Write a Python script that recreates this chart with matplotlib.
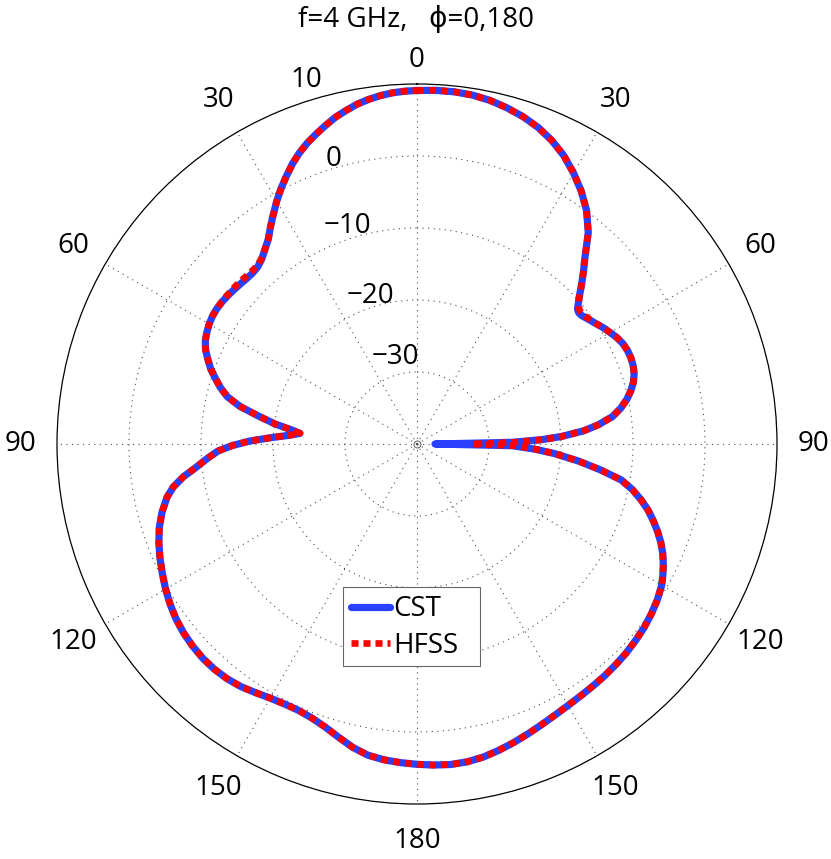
import numpy as np
import matplotlib.pyplot as plt
from matplotlib.patches import Rectangle

plt.rcParams['font.family'] = ['Open Sans', 'DejaVu Sans']

# angle (deg, clockwise from top) and gain (dB)
theta_deg = [0, 3, 6, 9, 12, 15, 18, 21, 24, 27,
             30, 33, 36, 39, 42, 44, 46, 48, 50, 51,
             52, 54, 56, 58, 60, 62, 64, 66, 68, 70,
             72, 74, 76, 78, 80, 82, 84, 85.5, 87, 88,
             89, 90, 91, 92.5, 94, 96, 98, 100, 102, 104,
             106, 108, 110, 112, 114, 116, 118, 120, 123, 126,
             129, 132, 135, 138, 141, 144, 147, 150, 153, 156,
             159, 162, 165, 168, 171, 174, 177, 180, 183, 186,
             189, 192, 195, 198, 201, 204, 207, 210, 213, 216,
             219, 222, 225, 228, 231, 234, 237, 240, 243, 246,
             249, 252, 255, 258, 260, 262, 264, 266, 268, 269.5,
             271, 272.5, 274, 275.2, 276.5, 278, 280, 282, 284, 286,
             288, 290, 292, 294, 296, 298, 300, 302, 304, 306,
             308, 310, 312, 314, 316, 318, 320, 322, 324, 326,
             328, 330, 332, 334, 336, 338, 340, 342, 344, 346,
             348, 350, 352, 354, 356, 358, 360]

cst_db = [9.10, 9.19, 9.19, 9.07, 8.79, 8.33, 7.78, 7.06, 6.11, 4.93,
          3.47, 1.88, 0.07, -2.20, -5.14, -6.72, -8.24, -9.72, -10.90, -11.07,
          -11.00, -10.56, -10.07, -9.51, -9.03, -8.54, -8.19, -8.01, -7.97, -8.06,
          -8.29, -8.72, -9.38, -10.21, -11.25, -12.57, -14.72, -16.81, -19.86, -22.64,
          -26.81, -37.5, -26.81, -23.61, -20.83, -17.50, -14.31, -11.18, -9.38, -7.92,
          -6.60, -5.49, -4.44, -3.47, -2.64, -1.94, -1.32, -0.76, -0.21, 0.21,
          0.56, 0.83, 1.07, 1.25, 1.42, 1.56, 1.72, 1.94, 2.25, 2.64,
          3.10, 3.58, 4.03, 4.44, 4.69, 4.76, 4.65, 4.49, 4.31, 4.10,
          3.75, 3.06, 2.15, 1.32, 0.76, 0.49, 0.53, 0.76, 1.18, 1.64,
          1.94, 2.08, 2.08, 1.94, 1.71, 1.36, 0.88, 0.32, -0.31, -0.93,
          -1.60, -2.36, -3.33, -4.51, -5.63, -7.22, -9.17, -10.76, -12.36, -14.31,
          -16.74, -19.72, -22.36, -23.68, -22.36, -20.14, -17.64, -14.86, -12.85, -11.60,
          -10.56, -9.51, -8.68, -7.85, -7.29, -6.94, -6.67, -6.50, -6.44, -6.49,
          -6.60, -6.74, -6.88, -7.01, -7.06, -6.92, -6.46, -5.69, -4.86, -3.61,
          -2.36, -1.04, 0.21, 1.39, 2.57, 3.61, 4.51, 5.28, 6.04, 6.78,
          7.36, 7.92, 8.33, 8.65, 8.89, 9.03, 9.10]

hfss_db = [9.10, 9.19, 9.19, 9.07, 8.79, 8.33, 7.78, 7.06, 6.11, 4.93,
           3.47, 1.88, 0.07, -2.20, -5.14, -6.72, -8.24, -9.70, -10.65, -10.80,
           -10.78, -10.45, -10.05, -9.51, -9.03, -8.54, -8.19, -8.01, -7.97, -8.06,
           -8.29, -8.72, -9.38, -10.21, -11.25, -12.57, -14.72, -16.81, -19.86, -22.50,
           -26.40, -32.4, -26.40, -23.50, -20.83, -17.50, -14.31, -11.18, -9.38, -7.92,
           -6.60, -5.49, -4.44, -3.47, -2.64, -1.94, -1.32, -0.76, -0.21, 0.21,
           0.56, 0.83, 1.07, 1.25, 1.42, 1.56, 1.72, 1.94, 2.25, 2.64,
           3.10, 3.58, 4.03, 4.44, 4.69, 4.76, 4.65, 4.49, 4.31, 4.10,
           3.75, 3.06, 2.15, 1.32, 0.76, 0.49, 0.53, 0.76, 1.18, 1.64,
           1.94, 2.08, 2.08, 1.94, 1.71, 1.36, 0.88, 0.32, -0.31, -0.93,
           -1.60, -2.36, -3.33, -4.51, -5.63, -7.22, -9.17, -10.76, -12.36, -14.31,
           -16.74, -19.72, -22.36, -23.68, -22.36, -20.14, -17.64, -14.86, -12.85, -11.60,
           -10.56, -9.51, -8.68, -7.85, -7.29, -6.94, -6.67, -6.50, -6.44, -6.45,
           -6.50, -6.55, -6.62, -6.72, -6.80, -6.75, -6.40, -5.69, -4.86, -3.61,
           -2.36, -1.04, 0.21, 1.39, 2.57, 3.61, 4.51, 5.28, 6.04, 6.78,
           7.36, 7.92, 8.33, 8.65, 8.89, 9.03, 9.10]

ring_values = [-30, -20, -10, 0, 10]
ring_labels = ['\u221230', '\u221220', '\u221210', '0', '10']
angle_ticks = [0, 30, 60, 90, 120, 150, 180, 210, 240, 270, 300, 330]
angle_labels = ['0', '30', '60', '90', '120', '150', '180',
                '150', '120', '90', '60', '30']

fig = plt.figure(figsize=(8.31, 8.59), dpi=100)
ax = fig.add_axes([57 / 831, 55 / 859, 720 / 831, 720 / 859], projection='polar')
ax.set_theta_zero_location('N')
ax.set_theta_direction(-1)
ax.set_rlim(-40, 10)

ax.set_xticks(np.deg2rad(angle_ticks))
ax.set_xticklabels([])
ax.set_yticks(ring_values[:-1])
ax.set_yticklabels([])
ax.grid(True, color='0.3', linewidth=0.8, linestyle=(0, (1, 4)))
ax.spines['polar'].set_linewidth(0.9)
ax.spines['polar'].set_color('black')

# small circle at the origin
ax.plot([0], [-40], marker='o', ms=5, mfc='none', mec='0.35', mew=0.7)

th = np.deg2rad(theta_deg)
ax.plot(th, cst_db, color='#2a40ff', lw=5.2, label='CST', solid_capstyle='round',
        solid_joinstyle='round')
ax.plot(th, hfss_db, color='#ff0000', lw=4.8, linestyle=(0, (1.05, 0.75)), label='HFSS')

# radial labels
for v, lab, ang, rr in zip(ring_values, ring_labels,
                           [-14, -17.6, -17.6, -16.4, -17],
                           [-27.5, -18.5, -8.2, 1.25, 12.8]):
    ax.text(np.deg2rad(ang), rr, lab, fontsize=20, ha='center', va='center', clip_on=False)

# angle labels
for a, lab in zip(angle_ticks, angle_labels):
    rr = 13.3 if a == 0 else 15.1
    ax.text(np.deg2rad(a), rr, lab, fontsize=20, ha='center', va='center', clip_on=False)

fig.text(0.5, 1 - 27 / 859, 'f=4 GHz,   \u03d5=0,180', fontsize=20, ha='center', va='baseline')

# legend box (matlab style, wider on the right)
box = Rectangle((343 / 831, 1 - 666 / 859), 137 / 831, 79 / 859, transform=fig.transFigure,
                facecolor='white', edgecolor='0.4', linewidth=0.8, zorder=4.5)
ax.add_patch(box)
leg = ax.legend(loc='upper left', bbox_to_anchor=(343 / 831, 1 - 587 / 859),
                bbox_transform=fig.transFigure, frameon=False, fontsize=20,
                handlelength=1.4, handletextpad=0.1, borderpad=0.3,
                labelspacing=0.3, borderaxespad=0)
leg.set_zorder(5)

fig.savefig('out.png', dpi=100)
